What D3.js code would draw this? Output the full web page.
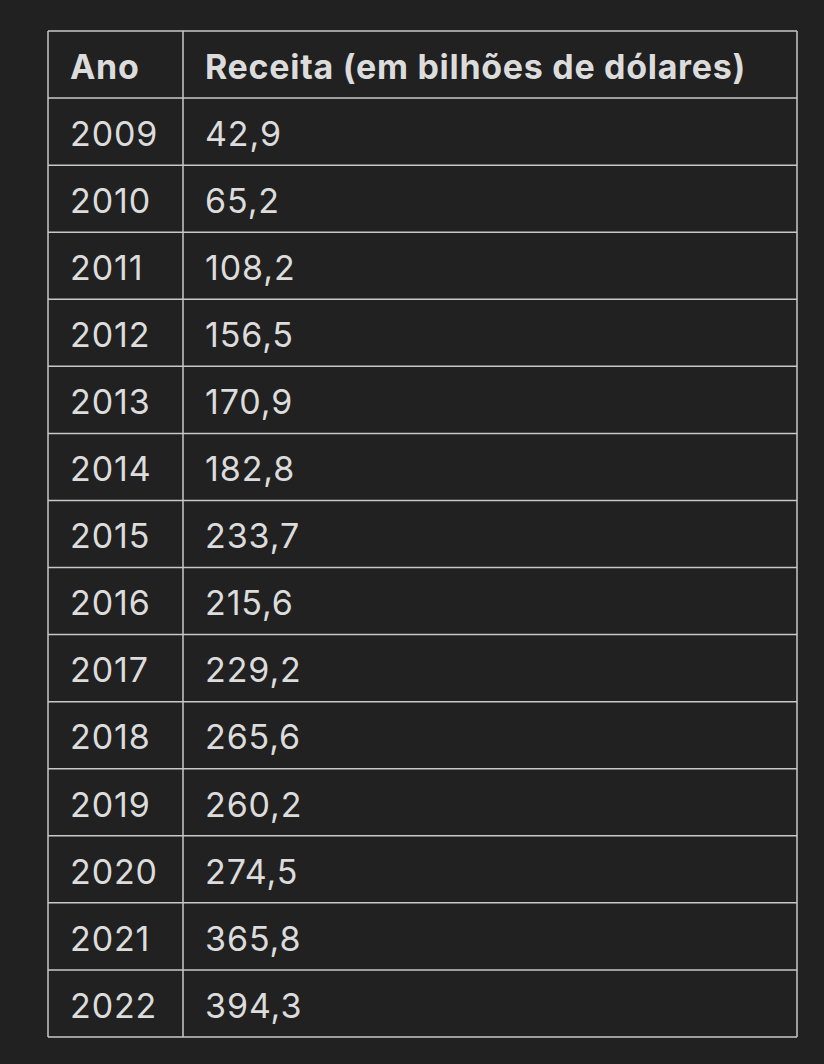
<!DOCTYPE html>
<html><head><meta charset="utf-8">
<script src="https://cdn.jsdelivr.net/npm/d3@7"></script>
<style>body{margin:0;background:#212121;}</style>
</head><body>
<div id="chart"></div>
<script>
const headers = ["Ano", "Receita (em bilhões de dólares)"];
const years = ["2009","2010","2011","2012","2013","2014","2015","2016","2017","2018","2019","2020","2021","2022"];
const revenue = ["42,9","65,2","108,2","156,5","170,9","182,8","233,7","215,6","229,2","265,6","260,2","274,5","365,8","394,3"];

const W = 824, H = 1064;
const svg = d3.select("#chart").append("svg").attr("width", W).attr("height", H);
svg.append("rect").attr("width", W).attr("height", H).attr("fill", "#212121");

const rows = [headers].concat(years.map((y, i) => [y, revenue[i]]));
const y = d3.scaleBand().domain(d3.range(rows.length)).range([31, 1037]);
const colX = [48, 183, 797];

const g = svg.append("g");
// horizontal lines
g.selectAll("line.h").data(d3.range(rows.length + 1)).enter().append("line")
  .attr("x1", colX[0]).attr("x2", colX[2])
  .attr("y1", d => d < rows.length ? y(d) : y(rows.length - 1) + y.bandwidth())
  .attr("y2", d => d < rows.length ? y(d) : y(rows.length - 1) + y.bandwidth())
  .attr("stroke", "#c8c8c8").attr("stroke-width", 1.5);
// vertical lines
g.selectAll("line.v").data(colX).enter().append("line")
  .attr("x1", d => d).attr("x2", d => d)
  .attr("y1", 31).attr("y2", 1037)
  .attr("stroke", "#c8c8c8").attr("stroke-width", 1.5);

rows.forEach((r, i) => {
  r.forEach((t, j) => {
    g.append("text")
      .attr("x", colX[j] + 22)
      .attr("y", y(i) + y.bandwidth() / 2 + 2)
      .attr("dy", "0.36em")
      .attr("fill", "#dcdcdc")
      .attr("font-family", "Inter, 'Noto Sans', sans-serif")
      .attr("font-size", 34)
      .attr("letter-spacing", i === 0 ? 0.7 : 0.9)
      .attr("font-weight", i === 0 ? 700 : 400)
      .text(t);
  });
});
</script>
</body></html>
